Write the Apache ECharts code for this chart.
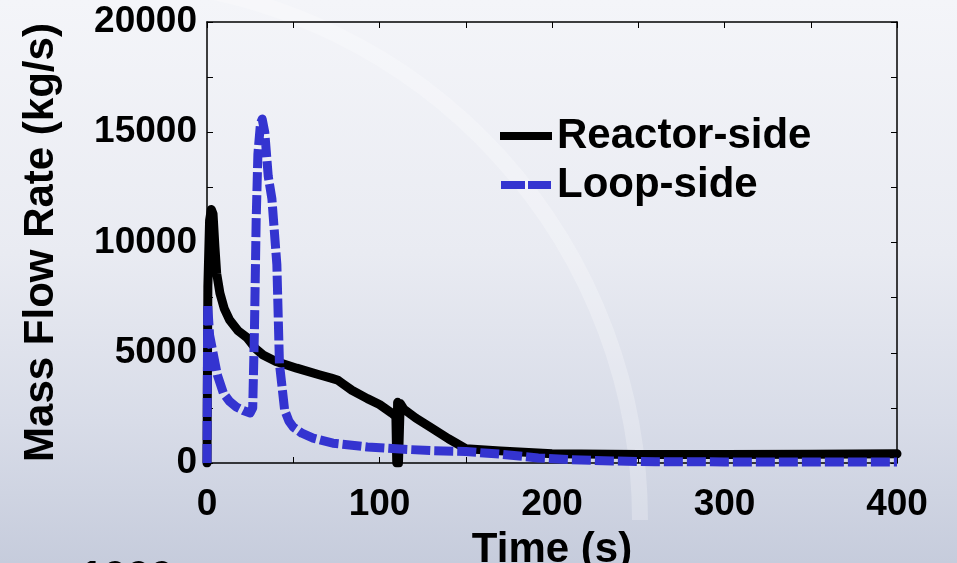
<!DOCTYPE html>
<html>
<head>
<meta charset="utf-8">
<script src="https://cdn.jsdelivr.net/npm/echarts@6/dist/echarts.min.js"></script>
<style>
  html, body { margin: 0; padding: 0; }
  #chart { width: 957px; height: 563px; }
</style>
</head>
<body>
<div id="chart"></div>
<script>
// 数据：时间(s) 与 质量流量(kg/s)
var reactorT = [0, 0.5, 1.5, 2.5, 3.5, 4.6, 5.6, 7.5, 10, 13, 18, 23, 28, 32.5, 40, 52, 65, 72, 76, 79, 84, 93, 100, 107, 109.5, 110, 110.5, 111, 112, 114, 121, 130, 140, 150, 170, 200, 250, 300, 350, 400];
var reactorV = [0, 8000, 11000, 11500, 11300, 9800, 8600, 7700, 7000, 6500, 6000, 5700, 5200, 4900, 4600, 4300, 4000, 3850, 3750, 3580, 3300, 2920, 2650, 2270, 2100, 0, 2750, 0, 2700, 2450, 2040, 1600, 1100, 650, 550, 420, 380, 390, 400, 420];
var loopT = [0, 0.4, 1.5, 3.5, 6, 9.5, 13, 17, 21, 25, 26.5, 27.5, 28.5, 29.5, 31, 32, 33.5, 35.5, 37.6, 40.5, 42, 45, 47.5, 50, 55, 61.5, 73, 93, 112, 131, 150, 170, 192, 210, 235, 260, 300, 350, 400];
var loopV = [0, 7200, 5800, 5000, 4000, 3170, 2800, 2540, 2380, 2270, 2500, 6000, 11000, 14000, 15400, 15600, 15000, 13000, 12000, 9000, 4500, 2400, 1900, 1630, 1350, 1130, 900, 730, 630, 560, 520, 400, 230, 150, 90, 60, 50, 50, 50];
var xTickLabels = ['0', '100', '200', '300', '400'];
var yTickLabels = ['0', '5000', '10000', '15000', '20000'];
var seriesNames = ['Reactor-side', 'Loop-side'];

function pairs(ts, vs) {
  return ts.map(function (t, i) { return [t, vs[i]]; });
}

var myChart = echarts.init(document.getElementById('chart'));

var tickFont = { fontFamily: 'Liberation Sans', fontWeight: 'bold', fontSize: 37, color: '#000' };
var nameFont = { fontFamily: 'Liberation Sans', fontWeight: 'bold', fontSize: 42, color: '#000' };

var option = {
  animation: false,
  backgroundColor: new echarts.graphic.LinearGradient(0, 0, 0, 1, [
    { offset: 0, color: '#f4f5f9' },
    { offset: 0.45, color: '#e9ebf2' },
    { offset: 0.75, color: '#d8dce8' },
    { offset: 1, color: '#c6ccdc' }
  ]),
  graphic: [
    {
      // 背景水印弧线
      type: 'arc', z: -10, silent: true,
      shape: { cx: 100, cy: 520, r: 540, startAngle: -Math.PI * 0.47, endAngle: 0 },
      style: { stroke: 'rgba(255,255,255,0.25)', lineWidth: 16, fill: null }
    },
    {
      type: 'text', left: 80, top: 557, silent: true,
      style: { text: '1000', font: 'bold 42px "Liberation Sans"', fill: '#000' }
    }
  ],
  grid: { left: 207, right: 60, top: 22, bottom: 100, containLabel: false, outerBoundsMode: 'none' },
  legend: {
    orient: 'vertical',
    left: 495,
    top: 110,
    itemWidth: 52,
    itemHeight: 8,
    itemGap: 7,
    textStyle: nameFont,
    itemStyle: { borderWidth: 0 },
    data: [
      { name: seriesNames[0], icon: 'rect' },
      { name: seriesNames[1], icon: 'path://M0,0h24v8h-24zM27,0h23v8h-23z' }
    ]
  },
  xAxis: [
    {
      type: 'value', min: 0, max: 400, interval: 50,
      name: 'Time (s)', nameLocation: 'middle', nameGap: 66, nameTextStyle: nameFont,
      axisLine: { show: true, onZero: false, lineStyle: { color: '#000', width: 1.5 } },
      axisTick: { show: true, inside: true, length: 6, lineStyle: { color: '#000' } },
      axisLabel: Object.assign({
        margin: 23,
        formatter: function (v) { return xTickLabels.indexOf(String(v)) >= 0 ? String(v) : ''; }
      }, tickFont),
      splitLine: { show: false }
    },
    {
      type: 'value', min: 0, max: 400, interval: 50, position: 'top',
      axisLine: { show: true, onZero: false, lineStyle: { color: '#000', width: 1.5 } },
      axisTick: { show: true, inside: true, length: 6, lineStyle: { color: '#000' } },
      axisLabel: { show: false },
      splitLine: { show: false }
    }
  ],
  yAxis: [
    {
      type: 'value', min: 0, max: 20000, interval: 2500,
      name: 'Mass Flow Rate (kg/s)', nameLocation: 'middle', nameGap: 145, nameTextStyle: nameFont,
      axisLine: { show: true, onZero: false, lineStyle: { color: '#000', width: 1.5 } },
      axisTick: { show: true, inside: true, length: 6, lineStyle: { color: '#000' } },
      axisLabel: Object.assign({
        margin: 10,
        formatter: function (v) { return yTickLabels.indexOf(String(v)) >= 0 ? String(v) : ''; }
      }, tickFont),
      splitLine: { show: false }
    },
    {
      type: 'value', min: 0, max: 20000, interval: 2500, position: 'right',
      axisLine: { show: true, onZero: false, lineStyle: { color: '#000', width: 1.5 } },
      axisTick: { show: true, inside: true, length: 6, lineStyle: { color: '#000' } },
      axisLabel: { show: false },
      splitLine: { show: false }
    }
  ],
  series: [
    {
      name: seriesNames[0],
      type: 'line',
      xAxisIndex: 0, yAxisIndex: 0,
      symbol: 'none',
      color: '#000',
      lineStyle: { color: '#000', width: 9, cap: 'round', join: 'round' },
      data: pairs(reactorT, reactorV)
    },
    {
      name: seriesNames[1],
      type: 'line',
      xAxisIndex: 0, yAxisIndex: 0,
      symbol: 'none',
      color: '#3434d0',
      lineStyle: { color: '#3434d0', width: 9, type: [19, 4], cap: 'butt', join: 'round' },
      data: pairs(loopT, loopV)
    }
  ]
};

myChart.setOption(option);
</script>
</body>
</html>
